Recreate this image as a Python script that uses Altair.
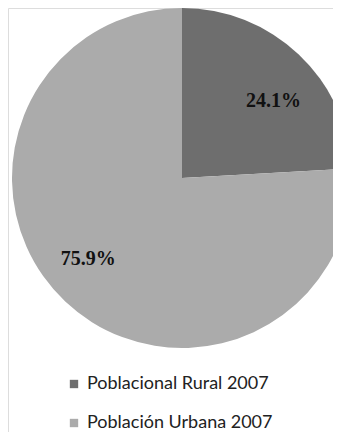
import altair as alt
import pandas as pd

categories = ["Poblacional Rural 2007", "Población Urbana 2007"]
values = [24.1, 75.9]
labels = ["24.1%", "75.9%"]
colors = ["#6e6e6e", "#ababab"]
order = [0, 1]

df = pd.DataFrame({"cat": categories, "val": values, "label": labels, "ord": order})

base = alt.Chart(df).encode(
    theta=alt.Theta("val:Q", stack=True),
    order=alt.Order("ord:Q"),
)

color = alt.Color(
    "cat:N",
    scale=alt.Scale(domain=categories, range=colors),
    sort=categories,
    legend=alt.Legend(
        title=None,
        orient="none",
        legendX=57,
        legendY=367,
        symbolType="square",
        symbolSize=70,
        symbolStrokeWidth=0,
        labelFont="Lato",
        labelFontSize=18,
        labelColor="#222222",
        rowPadding=21,
        labelLimit=400,
    ),
)

pie = base.mark_arc(radius=170, clip=True, stroke=None).encode(
    color=color,
    x=alt.value(174),
    y=alt.value(170),
)

t1 = base.mark_text(radius=120, font="Liberation Serif", fontWeight="bold", fontSize=20,
                    color="#111111", dx=9, dy=10).encode(
    text="label:N", x=alt.value(174), y=alt.value(170),
    opacity=alt.condition(alt.datum.ord == 0, alt.value(1), alt.value(0)),
)
t2 = base.mark_text(radius=122, font="Liberation Serif", fontWeight="bold", fontSize=20,
                    color="#111111", dx=-10, dy=-8).encode(
    text="label:N", x=alt.value(174), y=alt.value(170),
    opacity=alt.condition(alt.datum.ord == 1, alt.value(1), alt.value(0)),
)

chart = alt.layer(pie, t1, t2).properties(
    width=325, height=424,
    autosize=alt.AutoSizeParams(type="none"),
    padding=0,
).configure_view(stroke=None).configure(background="white")

chart.save("out.html", embed_options={"renderer": "svg", "actions": False})
